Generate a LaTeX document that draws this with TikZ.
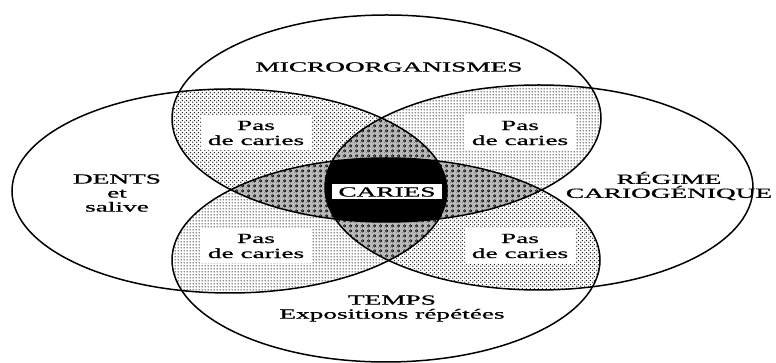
\documentclass[tikz,border=0pt]{standalone}
\usepackage{fontspec}
\setmainfont{Liberation Serif}
\newfontfamily\labfont[FakeBold=0.7]{Liberation Serif}
\usetikzlibrary{patterns.meta}

\tikzdeclarepattern{
  name=gridDots,
  type=uncolored,
  bounding box={(0pt,0pt) and (3pt,3pt)},
  tile size={(3pt,3pt)},
  code={\fill (1.5pt,1.5pt) circle (0.9pt);}
}
\tikzdeclarepattern{
  name=checkDots,
  type=uncolored,
  bounding box={(0pt,0pt) and (4pt,4pt)},
  tile size={(4pt,4pt)},
  code={\fill (1pt,1pt) circle (0.9pt); \fill (3pt,3pt) circle (0.9pt);}
}
\tikzdeclarepattern{
  name=ringDots,
  type=uncolored,
  bounding box={(0pt,0pt) and (6pt,5pt)},
  tile size={(6pt,5pt)},
  code={\draw[line width=0.7pt] (3pt,2.5pt) circle (1.4pt); \fill (0.3pt,0.3pt) circle (0.3pt);}
}

\def\ellT{(386.5,244.5) ellipse [x radius=214.5, y radius=103.5]}
\def\ellB{(386,103) ellipse [x radius=214, y radius=102]}
\def\ellL{(229.5,172) ellipse [x radius=217.5, y radius=102]}
\def\ellR{(539,175.5) ellipse [x radius=214, y radius=102.5]}

\begin{document}
\begin{tikzpicture}[x=1pt,y=1pt,
  lab/.style={font=\labfont\fontsize{14}{14}\selectfont, xscale=1.95, align=center, inner sep=0pt},
  pasbox/.style={fill=white, minimum width=56pt, minimum height=35pt, inner sep=0pt,
                 xscale=1.95, align=center, font=\labfont\fontsize{14}{15}\selectfont},
  outline/.style={line width=1.5pt},
  twoA/.style={pattern={checkDots}, pattern color=black!85},
  twoB/.style={pattern={gridDots}, pattern color=black!85},
  threeway/.style={pattern={ringDots}, pattern color=black}]
\useasboundingbox (0,0) rectangle (776,363);
\fill[white] (0,0) rectangle (776,363);

% two-way overlaps
\begin{scope}\clip \ellT; \fill[twoA] \ellL; \end{scope}
\begin{scope}\clip \ellT; \fill[twoB] \ellR; \end{scope}
\begin{scope}\clip \ellB; \fill[twoB] \ellL; \end{scope}
\begin{scope}\clip \ellB; \fill[twoA] \ellR; \end{scope}

% three-way overlaps
\begin{scope}\clip \ellT; \clip \ellL; \fill[gray!55] \ellR; \fill[threeway] \ellR; \end{scope}
\begin{scope}\clip \ellB; \clip \ellL; \fill[gray!55] \ellR; \fill[threeway] \ellR; \end{scope}
\begin{scope}\clip \ellT; \clip \ellB; \fill[gray!55] \ellL; \fill[threeway] \ellL; \end{scope}
\begin{scope}\clip \ellT; \clip \ellB; \fill[gray!55] \ellR; \fill[threeway] \ellR; \end{scope}

% four-way overlap
\begin{scope}\clip \ellT; \clip \ellB; \clip \ellL; \fill[black] \ellR; \end{scope}

% outlines
\draw[outline] \ellT;
\draw[outline] \ellB;
\draw[outline] \ellL;
\draw[outline] \ellR;

% labels
\node[lab] (micro) at (389,296) {MICROORGANISMES};
\node[lab] (dents) at (117,170) {DENTS\\et\\salive};
\node[lab] (regime) at (669,177) {RÉGIME\\CARIOGÉNIQUE};
\node[lab] (temps) at (392,54.5) {TEMPS\\Expositions répétées};

\node[pasbox] (pUL) at (256,230) {Pas\\de caries};
\node[pasbox] (pUR) at (520,230) {Pas\\de caries};
\node[pasbox] (pLL) at (256,117) {Pas\\de caries};
\node[pasbox] (pLR) at (520,117) {Pas\\de caries};

\node[lab, fill=white, minimum width=56pt, minimum height=15pt] (caries) at (387,171) {CARIES};
\end{tikzpicture}
\end{document}
